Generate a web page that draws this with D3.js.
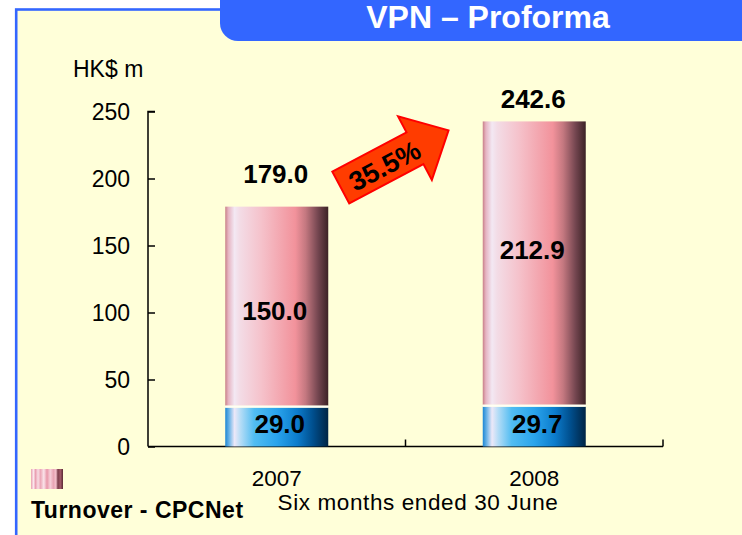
<!DOCTYPE html>
<html>
<head>
<meta charset="utf-8">
<script src="https://cdn.jsdelivr.net/npm/d3@7/dist/d3.min.js"></script>
<style>
  html, body { margin: 0; padding: 0; background: #ffffff; }
  svg { display: block; }
  text { font-family: "Liberation Sans", Arial, Helvetica, sans-serif; }
</style>
</head>
<body>
<svg id="chart" width="742" height="535"></svg>
<script>
// ---- data ----
const categories = ["2007", "2008"];
const baseSeries = [29.0, 29.7];        // blue (bottom) segment
const cpcnetSeries = [150.0, 212.9];    // pink segment: Turnover - CPCNet
const totals = [179.0, 242.6];
const yTickValues = [0, 50, 100, 150, 200, 250];
const growthLabel = "35.5%";
const titleText = "VPN \u2013 Proforma";
const unitLabel = "HK$ m";
const xAxisTitle = "Six months ended 30 June";
const legendLabel = "Turnover - CPCNet";

// ---- setup ----
const svg = d3.select("#chart");
const W = 742, H = 535;
const defs = svg.append("defs");

function hGrad(id, stops) {
  const g = defs.append("linearGradient").attr("id", id)
    .attr("x1", "0%").attr("x2", "100%").attr("y1", "0%").attr("y2", "0%");
  stops.forEach(s => g.append("stop").attr("offset", s[0]).attr("stop-color", s[1]));
}
hGrad("pinkGrad", [
  ["0%", "#c98088"], ["3%", "#e6b4c2"], ["9%", "#f3e8f3"], ["14%", "#f3dce6"],
  ["35%", "#f5c2cb"], ["68%", "#f2929b"], ["78%", "#c47880"], ["90%", "#744650"], ["100%", "#3c2226"]
]);
hGrad("blueGrad", [
  ["0%", "#1c86d4"], ["4%", "#6fb6e8"], ["9%", "#ece8f8"], ["15%", "#b4dcf6"],
  ["28%", "#52bdf2"], ["50%", "#2aa4ec"], ["70%", "#0c7ccc"], ["85%", "#004f8e"], ["100%", "#002444"]
]);
hGrad("legendGrad", [
  ["0%", "#e8a0b0"], ["8%", "#fbe8ee"], ["14%", "#eaa0b2"], ["22%", "#f8dce4"],
  ["30%", "#eca8b8"], ["40%", "#fae4ea"], ["50%", "#e896a8"], ["60%", "#f6d0da"],
  ["70%", "#e8a4b4"], ["78%", "#f4c0cc"], ["84%", "#7a3c4a"], ["92%", "#a05868"], ["100%", "#5a2a34"]
]);

// background frame
svg.append("rect").attr("x", 0).attr("y", 0).attr("width", W).attr("height", H).attr("fill", "#ffffff");
svg.append("rect").attr("x", 16.2).attr("y", 9.5).attr("width", W + 20).attr("height", H + 20)
  .attr("fill", "#ffffd9").attr("stroke", "#3366ff").attr("stroke-width", 2.6);

// title pill
svg.append("rect").attr("x", 220).attr("y", -20).attr("width", 560).attr("height", 61)
  .attr("rx", 18).attr("ry", 18).attr("fill", "#3366ff");
svg.append("text").attr("x", 488).attr("y", 28).attr("text-anchor", "middle")
  .attr("font-size", 32).attr("font-weight", "bold").attr("fill", "#ffffff")
  .text(titleText);

// ---- scales ----
const x = d3.scaleBand().domain(categories).range([148, 663]).paddingInner(0).paddingOuter(0);
const barW = x.bandwidth() * 0.4;
const y = d3.scaleLinear().domain([0, 250]).range([446.5, 111.5]);

// y axis
const yAxis = d3.axisRight(y).tickValues(yTickValues).tickSize(7).tickFormat("");
const gy = svg.append("g").attr("transform", "translate(148,0)").call(yAxis);
gy.select(".domain").attr("d", `M7,${y(250)}H0V${y(0)}`).attr("stroke", "#000").attr("stroke-width", 1.5);
gy.selectAll(".tick line").attr("stroke", "#000").attr("stroke-width", 1.5);

svg.append("g").selectAll("text").data(yTickValues).join("text")
  .attr("x", 130).attr("y", d => y(d)).attr("dy", "0.36em")
  .attr("text-anchor", "end").attr("font-size", 23).attr("fill", "#000")
  .text(d => d);

svg.append("text").attr("x", 73).attr("y", 77).attr("font-size", 23).attr("fill", "#000").text(unitLabel);

// x axis
svg.append("line").attr("x1", 148).attr("x2", 663).attr("y1", y(0)).attr("y2", y(0))
  .attr("stroke", "#000").attr("stroke-width", 1.5);
const boundaries = categories.map(c => x(c) + x.bandwidth());
svg.append("g").selectAll("line").data(boundaries).join("line")
  .attr("x1", d => d).attr("x2", d => d).attr("y1", y(0)).attr("y2", y(0) - 7)
  .attr("stroke", "#000").attr("stroke-width", 1.5);

svg.append("g").selectAll("text").data(categories).join("text")
  .attr("x", d => x(d) + x.bandwidth() / 2).attr("y", 486)
  .attr("text-anchor", "middle").attr("font-size", 22.5).attr("fill", "#000")
  .text(d => d);
svg.append("text").attr("x", 418).attr("y", 510).attr("text-anchor", "middle")
  .attr("font-size", 22.5).attr("letter-spacing", 0.6).attr("fill", "#000").text(xAxisTitle);

// ---- bars ----
const bars = svg.append("g");
const cx = i => x(categories[i]) + x.bandwidth() / 2;

// blue bottom segment
bars.selectAll("rect.base").data(baseSeries).join("rect").attr("class", "base")
  .attr("x", (d, i) => cx(i) - barW / 2).attr("width", barW)
  .attr("y", d => y(d)).attr("height", d => y(0) - y(d))
  .attr("fill", "url(#blueGrad)");

// pink segment
bars.selectAll("rect.cpc").data(cpcnetSeries).join("rect").attr("class", "cpc")
  .attr("x", (d, i) => cx(i) - barW / 2).attr("width", barW)
  .attr("y", (d, i) => y(baseSeries[i] + d))
  .attr("height", (d, i) => y(baseSeries[i]) - y(baseSeries[i] + d) - 2)
  .attr("fill", "url(#pinkGrad)");

// separator
bars.selectAll("rect.sep").data(baseSeries).join("rect").attr("class", "sep")
  .attr("x", (d, i) => cx(i) - barW / 2).attr("width", barW)
  .attr("y", d => y(d) - 2).attr("height", 2).attr("fill", "#fffff4");

// labels
const totalDy = [-24, -13];
const pinkDy = [3, -14];
const lbl = svg.append("g").attr("font-weight", "bold").attr("font-size", 26).attr("fill", "#000")
  .attr("text-anchor", "middle");
lbl.selectAll("text.tot").data(totals).join("text").attr("class", "tot")
  .attr("x", (d, i) => cx(i) - 1).attr("y", (d, i) => y(d) + totalDy[i]).text(d => d.toFixed(1));
lbl.selectAll("text.cpc").data(cpcnetSeries).join("text").attr("class", "cpc")
  .attr("x", (d, i) => cx(i) - 2)
  .attr("y", (d, i) => (y(baseSeries[i] + d) + y(baseSeries[i])) / 2 + pinkDy[i])
  .attr("dy", "0.36em").text(d => d.toFixed(1));
lbl.selectAll("text.base").data(baseSeries).join("text").attr("class", "base")
  .attr("x", (d, i) => cx(i) + 3)
  .attr("y", d => (y(d) + y(0)) / 2 - 3)
  .attr("dy", "0.36em").text(d => d.toFixed(1));

// ---- growth arrow ----
const arrow = svg.append("g").attr("transform", "translate(340.8,187.6) rotate(-28)");
const L = 122, shaftL = 84, sh = 18, hh = 36;
arrow.append("path")
  .attr("d", `M0,${-sh}L${shaftL},${-sh}L${shaftL},${-hh}L${L},0L${shaftL},${hh}L${shaftL},${sh}L0,${sh}Z`)
  .attr("fill", "#ff3c00").attr("stroke", "#ff0000").attr("stroke-width", 2).attr("stroke-linejoin", "miter");
arrow.append("text").attr("x", 49).attr("y", 1).attr("dy", "0.36em").attr("text-anchor", "middle")
  .attr("font-size", 27).attr("font-weight", "bold").attr("fill", "#000").text(growthLabel);

// ---- legend ----
svg.append("rect").attr("x", 31).attr("y", 469).attr("width", 32).attr("height", 20).attr("fill", "url(#legendGrad)");
svg.append("text").attr("x", 31).attr("y", 518).attr("font-size", 23).attr("font-weight", "bold")
  .attr("letter-spacing", 0.5).attr("fill", "#000").text(legendLabel);
</script>
</body>
</html>
